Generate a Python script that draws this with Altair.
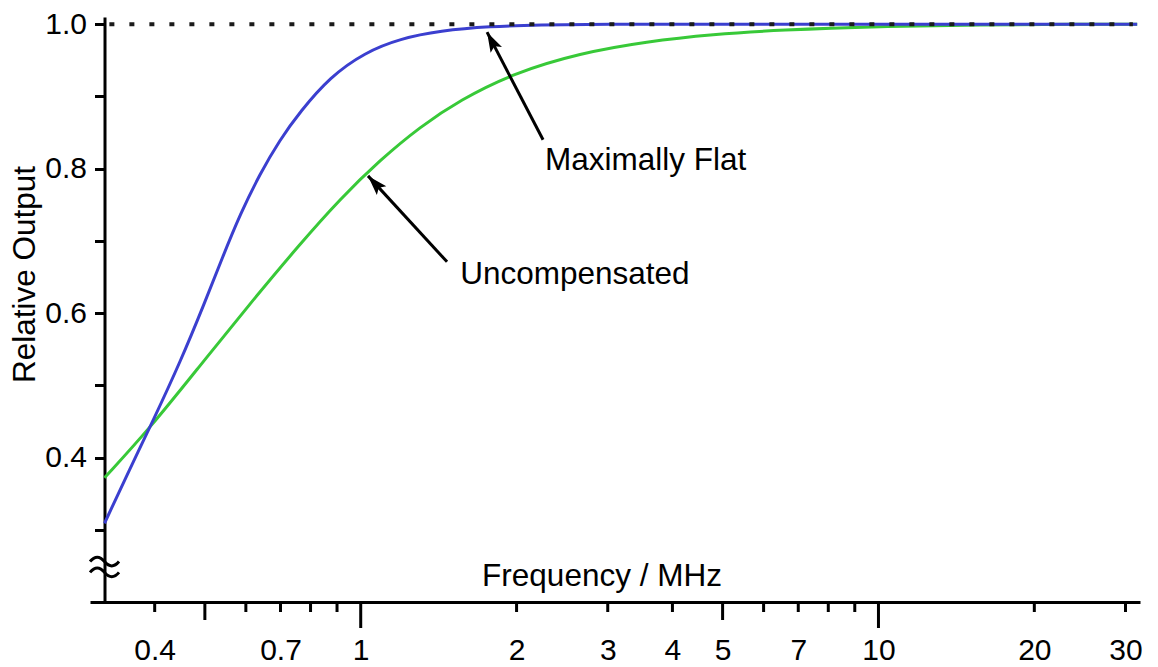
import math
import altair as alt
import pandas as pd

# ---------------- data ----------------
flat_freq = [0.32, 0.358, 0.397, 0.448, 0.500, 0.542, 0.585, 0.639, 0.698, 0.764,
             0.872, 1.019, 1.191, 1.424, 1.778, 2.22, 2.90, 5.0, 10.0, 20.0, 31.6]
flat_out = [0.309, 0.384, 0.451, 0.532, 0.615, 0.679, 0.737, 0.793, 0.840, 0.879,
            0.927, 0.961, 0.980, 0.991, 0.997, 0.999, 1.0, 1.0, 1.0, 1.0, 1.0]

unc_freq = [0.32, 0.392, 0.489, 0.611, 0.764, 0.912, 1.090, 1.302, 1.556, 1.969,
            2.653, 3.57, 4.79, 6.46, 10.07, 15.7, 24.5, 31.6]
unc_out = [0.372, 0.441, 0.527, 0.613, 0.696, 0.758, 0.812, 0.858, 0.895, 0.932,
           0.960, 0.976, 0.986, 0.992, 0.997, 0.999, 1.0, 1.0]

x_tick_values = [0.4, 0.5, 0.6, 0.7, 0.8, 0.9, 1, 2, 3, 4, 5, 6, 7, 8, 9, 10, 20, 30]
x_label_values = [0.4, 0.7, 1, 2, 3, 4, 5, 7, 10, 20, 30]
y_tick_values = [0.3, 0.4, 0.5, 0.6, 0.7, 0.8, 0.9, 1.0]

ref_line = [0.327, 31.0, 1.0]          # x start, x end, level of dotted line
axis_break = [0.32, 0.25]              # where the axis-break squiggle sits

ann_text = ["Maximally Flat", "Uncompensated"]
ann_text_x = [2.27, 1.556]
ann_text_y = [0.798, 0.640]
arrow_tail_x = [2.25, 1.468]
arrow_tail_y = [0.840, 0.671]
arrow_tip_x = [1.754, 1.033]
arrow_tip_y = [0.989, 0.790]

# ---------------- layout ----------------
W, H = 1050, 585
XD = [0.3, 32]
YD = [0.2, 1.01]
FONT = "Liberation Sans"
BLUE = "#3b3fcf"
GREEN = "#38c938"


def to_px(f, v):
    x = W * math.log10(f / XD[0]) / math.log10(XD[1] / XD[0])
    y = H * (YD[1] - v) / (YD[1] - YD[0])
    return x, y


y_axis_x = to_px(flat_freq[0], 1.0)[0]

xs = alt.Scale(type="log", domain=XD, nice=False)
ys = alt.Scale(domain=YD, nice=False, zero=False)

flat_df = pd.DataFrame({"f": flat_freq, "v": flat_out})
unc_df = pd.DataFrame({"f": unc_freq, "v": unc_out})

x_axis = alt.Axis(
    values=x_label_values, ticks=False, tickSize=0, grid=False,
    domain=True, domainColor="black", domainWidth=3,
    labelFont=FONT, labelFontSize=30, labelColor="black", labelPadding=33,
    labelExpr="datum.value < 1 ? format(datum.value, '.1f') : format(datum.value, 'd')",
    labelFlush=False, labelOverlap=False,
    title="Frequency / MHz", titleFont=FONT, titleFontSize=31.5, titleFontWeight="normal",
    titleColor="black", titleX=511.5, titleY=-17, titleAlign="center",
    titleBaseline="alphabetic", titleAnchor="start",
)
y_axis = alt.Axis(
    values=y_tick_values, grid=False, offset=-y_axis_x,
    domain=True, domainColor="black", domainWidth=3,
    ticks=True, tickSize=10, tickWidth=3, tickColor="black",
    labelFont=FONT, labelFontSize=30, labelColor="black", labelPadding=8,
    labelExpr="(round(datum.value*10) % 2 == 0) ? format(datum.value, '.1f') : ''",
    labelOverlap=False,
    title="Relative Output", titleFont=FONT, titleFontSize=31.5, titleFontWeight="normal",
    titleColor="black", titleX=25.5 - 90 - y_axis_x, titleY=257, titleAngle=270,
    titleAlign="center", titleBaseline="middle", titleAnchor="start",
)

green = alt.Chart(unc_df).mark_line(color=GREEN, strokeWidth=3, interpolate="basis").encode(
    x=alt.X("f:Q", scale=xs, axis=x_axis),
    y=alt.Y("v:Q", scale=ys, axis=y_axis),
)
blue = alt.Chart(flat_df).mark_line(color=BLUE, strokeWidth=3, interpolate="basis").encode(
    x=alt.X("f:Q"), y=alt.Y("v:Q"),
)

dotted = alt.Chart(pd.DataFrame({"a": [ref_line[0]], "b": [ref_line[1]], "y": [ref_line[2]]})).mark_rule(
    color="#1a1a1a", strokeWidth=4, strokeDash=[5, 15]
).encode(x="a:Q", x2="b:Q", y="y:Q")


# x-axis ticks of three lengths
def tick_len(v):
    m = round(v / 10 ** math.floor(math.log10(v) + 1e-9), 6)
    if m == 1:
        return 26
    if m == 5:
        return 18
    return 10


tick_layers = []
for L in (10, 18, 26):
    vals = [v for v in x_tick_values if tick_len(v) == L]
    tick_layers.append(
        alt.Chart(pd.DataFrame({"t": vals})).mark_rule(color="black", strokeWidth=3).encode(
            x="t:Q", y=alt.value(H), y2=alt.value(H + L)
        )
    )

squiggle = alt.Chart(pd.DataFrame({"x": [axis_break[0]], "y": [axis_break[1]]})).mark_point(
    shape="M-1,-0.3 Q-0.5,-0.9 0,-0.3 T1,-0.3 M-1,0.45 Q-0.5,-0.15 0,0.45 T1,0.45",
    size=841, filled=False, color="black", strokeWidth=3, opacity=1,
).encode(x="x:Q", y="y:Q")

ann_df = pd.DataFrame({"label": ann_text, "x": ann_text_x, "y": ann_text_y})
ann = alt.Chart(ann_df).mark_text(
    align="left", baseline="alphabetic", font=FONT, fontSize=31.5, color="black"
).encode(x="x:Q", y="y:Q", text="label:N")

angles = []
for tx, ty, hx, hy in zip(arrow_tail_x, arrow_tail_y, arrow_tip_x, arrow_tip_y):
    p0 = to_px(tx, ty)
    p1 = to_px(hx, hy)
    dx, dy = p1[0] - p0[0], p1[1] - p0[1]
    angles.append(math.degrees(math.atan2(dx, -dy)) % 360)

arrow_df = pd.DataFrame({"x": arrow_tail_x, "y": arrow_tail_y,
                         "x2": arrow_tip_x, "y2": arrow_tip_y, "ang": angles})
shafts = alt.Chart(arrow_df).mark_rule(color="black", strokeWidth=3).encode(
    x="x:Q", y="y:Q", x2="x2:Q", y2="y2:Q"
)
heads = alt.Chart(arrow_df).mark_point(
    shape="M0,0 L0.32,1 L0,0.8 L-0.32,1 Z", size=1600, filled=True, color="black", opacity=1
).encode(x="x2:Q", y="y2:Q", angle=alt.Angle("ang:Q", scale=None))

chart = alt.layer(
    green, blue, dotted, *tick_layers, squiggle, shafts, heads, ann
).properties(
    width=W, height=H,
    autosize=alt.AutoSizeParams(type="none"),
    padding={"left": 82, "top": 9, "right": 10, "bottom": 62},
    background="white",
).configure_view(strokeWidth=0)

chart.save("out.html", embed_options={"renderer": "svg", "actions": False})
